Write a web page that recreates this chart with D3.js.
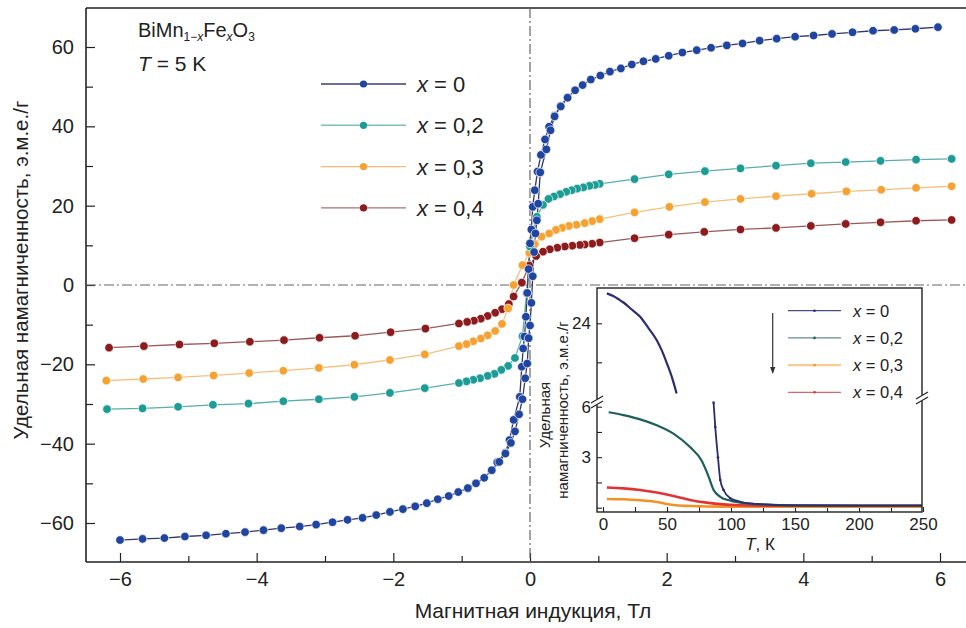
<!DOCTYPE html>
<html>
<head>
<meta charset="utf-8">
<script src="https://cdn.jsdelivr.net/npm/d3@7"></script>
<style>
body { margin: 0; background: #fff; }
svg { display: block; font-family: "Liberation Sans", Arial, sans-serif; }
</style>
</head>
<body>
<div id="svgWrapper"></div>
<script>
// main loop data, [field (T), magnetization (emu/g)]
var seriesKeys = ["x = 0", "x = 0,2", "x = 0,3", "x = 0,4"];

var blueDown = [[5.97,65.0],[5.64,64.6],[5.33,64.3],[5.02,64.1],[4.72,63.7],[4.42,63.3],[4.15,62.9],[3.88,62.6],[3.61,62.1],[3.36,61.6],[3.11,60.9],[2.88,60.4],[2.65,59.8],[2.44,59.2],[2.23,58.6],[2.03,57.8],[1.84,57.0],[1.66,56.4],[1.49,55.6],[1.33,54.6],[1.17,53.8],[1.03,52.8],[0.89,51.8],[0.77,50.4],[0.66,49.1],[0.55,47.3],[0.45,45.2],[0.36,42.7],[0.28,39.9],[0.22,36.7],[0.16,32.8],[0.11,28.6],[0.07,23.9],[0.04,19.7],[0.02,14.0],[0.0,10.5],[-0.02,4.0],[-0.04,-2.0],[-0.06,-8.0],[-0.08,-13.0],[-0.10,-16.0],[-0.12,-20.6],[-0.15,-28.2],[-0.24,-34.0],[-0.30,-39.1],[-0.36,-42.3],[-0.48,-44.7],[-0.56,-46.7],[-0.67,-48.6],[-0.79,-50.0],[-0.91,-51.2],[-1.05,-52.2],[-1.19,-53.2],[-1.35,-54.0],[-1.51,-55.0],[-1.68,-55.8],[-1.86,-56.5],[-2.05,-57.2],[-2.25,-58.0],[-2.45,-58.7],[-2.67,-59.2],[-2.89,-59.8],[-3.13,-60.4],[-3.37,-60.9],[-3.64,-61.3],[-3.90,-61.8],[-4.17,-62.3],[-4.45,-62.7],[-4.74,-63.1],[-5.05,-63.4],[-5.35,-63.8],[-5.67,-64.0],[-6.00,-64.3]];
var blueUp = [[-0.56,-46.7],[-0.45,-44.6],[-0.36,-42.5],[-0.28,-39.8],[-0.22,-36.9],[-0.16,-32.6],[-0.11,-28.8],[-0.07,-23.5],[-0.04,-19.8],[-0.02,-13.4],[0.0,-10.2],[0.02,-4.5],[0.04,2.2],[0.06,8.3],[0.08,13.0],[0.10,16.3],[0.12,20.5],[0.15,28.4],[0.24,34.2],[0.30,39.0],[0.36,42.5],[0.45,45.0],[0.55,47.2]];
var tealData = [[6.17,31.8],[5.65,31.6],[5.13,31.3],[4.62,31.0],[4.11,30.7],[3.60,30.1],[3.08,29.4],[2.56,28.7],[2.03,27.9],[1.53,26.7],[1.02,25.5],[0.95,25.2],[0.87,25.0],[0.78,24.6],[0.69,24.3],[0.61,23.9],[0.53,23.5],[0.44,22.9],[0.35,22.3],[0.27,21.7],[0.19,20.2],[0.10,17.2],[0.0,9.7],[-0.05,-2.0],[-0.11,-12.9],[-0.22,-18.4],[-0.32,-20.4],[-0.42,-21.4],[-0.52,-22.4],[-0.62,-22.9],[-0.73,-23.5],[-0.83,-23.9],[-0.93,-24.3],[-1.04,-24.7],[-1.54,-26.0],[-2.05,-27.2],[-2.57,-28.2],[-3.09,-28.8],[-3.61,-29.3],[-4.12,-29.9],[-4.64,-30.2],[-5.15,-30.7],[-5.67,-31.1],[-6.19,-31.3]];
var orangeData = [[6.17,24.9],[5.65,24.5],[5.14,24.0],[4.63,23.6],[4.12,23.0],[3.60,22.4],[3.08,21.7],[2.56,20.9],[2.04,19.7],[1.53,18.3],[1.02,16.6],[0.91,16.1],[0.80,15.6],[0.68,15.2],[0.57,14.9],[0.47,14.4],[0.38,13.9],[0.28,13.0],[0.17,12.2],[0.07,10.3],[-0.01,8.1],[-0.11,5.0],[-0.24,0.0],[-0.32,-5.9],[-0.41,-9.8],[-0.51,-11.6],[-0.62,-12.7],[-0.72,-13.5],[-0.83,-14.2],[-0.93,-14.9],[-1.04,-15.4],[-1.54,-17.5],[-2.05,-18.9],[-2.57,-20.1],[-3.09,-20.9],[-3.61,-21.6],[-4.11,-22.2],[-4.63,-22.8],[-5.15,-23.3],[-5.66,-23.7],[-6.20,-24.1]];
var redData = [[6.17,16.4],[5.65,16.2],[5.13,15.8],[4.62,15.4],[4.11,14.9],[3.60,14.4],[3.08,14.0],[2.55,13.4],[2.03,12.7],[1.53,11.8],[1.02,10.7],[0.91,10.4],[0.80,10.2],[0.73,10.1],[0.62,9.9],[0.51,9.7],[0.40,9.4],[0.29,9.0],[0.19,8.4],[0.09,7.3],[-0.01,4.9],[-0.12,0.6],[-0.24,-2.9],[-0.31,-4.8],[-0.41,-6.1],[-0.51,-7.0],[-0.62,-7.8],[-0.72,-8.5],[-0.82,-9.0],[-0.92,-9.3],[-1.04,-9.7],[-1.53,-11.0],[-2.04,-11.9],[-2.56,-12.8],[-3.08,-13.3],[-3.60,-13.9],[-4.10,-14.3],[-4.62,-14.7],[-5.13,-15.0],[-5.65,-15.4],[-6.16,-15.8]];

var xTicks = [-6, -4, -2, 0, 2, 4, 6];
var xMinor = [-5, -3, -1, 1, 3, 5];
var yTicks = [-60, -40, -20, 0, 20, 40, 60];
var yMinor = [-50, -30, -10, 10, 30, 50];

// inset data, [T (K), magnetization]
var insetKeys = ["x = 0", "x = 0,2", "x = 0,3", "x = 0,4"];
var inset0High = [[3,25.15],[8,25.05],[13,24.9],[16,24.8],[22,24.55],[29,24.25],[35,23.85],[42,23.35],[46,22.95],[50,22.45],[54,21.9],[57.5,21.3]];
var inset0Low = [[86.4,6.24],[87.7,4.8],[89.8,3.0],[91.6,1.65],[94.2,1.05],[99.5,0.56],[105,0.4],[110,0.3],[125,0.2],[150,0.14],[200,0.12],[250,0.12]];
var inset2 = [[4.4,5.67],[16,5.5],[29,5.25],[42,4.9],[55,4.4],[68,3.6],[77,2.8],[82.5,1.85],[86.4,1.05],[91.6,0.65],[99.5,0.42],[112.5,0.26],[125,0.2],[150,0.14],[200,0.12],[250,0.12]];
var inset3 = [[3,0.52],[16,0.5],[29,0.44],[42,0.34],[55,0.16],[68,0.1],[81,0.07],[100,0.06],[150,0.06],[200,0.06],[250,0.06]];
var inset4 = [[3,1.2],[16,1.15],[29,1.05],[42,0.9],[55,0.7],[68,0.46],[81,0.3],[94,0.2],[107,0.15],[130,0.12],[200,0.12],[250,0.12]];
var insetXTicks = [0, 50, 100, 150, 200, 250];
var insetXMinor = [25, 75, 125, 175, 225];
var insetLowTicks = [0, 1.5, 3, 4.5, 6];
var insetLowLabels = [3, 6];
var insetHighTicks = [22.5, 24];
var insetHighLabels = [24];

var fullWidth = 966, fullHeight = 628;
var frameLeft = 86, frameTop = 8, frameBottom = 562;

var dotColor = ["#1f45a0", "#1d9c96", "#f6a232", "#8c1b1d"];
var lineColor = ["#30356f", "#5aaeab", "#f5c07e", "#9a5a5a"];
var legendLine = ["#3a3f78", "#80bebc", "#f7b878", "#a87272"];
var insetColor = ["#2b2d72", "#1e5f5d", "#f39224", "#e03434"];

var svg = d3.select("#svgWrapper").append("svg")
  .attr("width", fullWidth).attr("height", fullHeight);

var xScale = d3.scaleLinear().domain([-6, 6]).range([120, 940]);
var yScale = d3.scaleLinear().domain([-60, 60]).range([523, 47]);

// axes
svg.append("g").attr("transform", "translate(" + frameLeft + ",0)")
  .call(d3.axisLeft(yScale).tickValues(yTicks).tickSize(-9).tickPadding(12).tickFormat(d3.format("d")));
svg.append("g").attr("transform", "translate(" + frameLeft + ",0)")
  .call(d3.axisLeft(yScale).tickValues(yMinor).tickSize(-7).tickFormat(""));
svg.append("g").attr("transform", "translate(0," + frameBottom + ")")
  .call(d3.axisBottom(xScale).tickValues(xTicks).tickSize(-9).tickPadding(10).tickFormat(d3.format("d")));
svg.append("g").attr("transform", "translate(0," + frameBottom + ")")
  .call(d3.axisBottom(xScale).tickValues(xMinor).tickSize(-6).tickFormat(""));
svg.selectAll(".domain").remove();
svg.selectAll(".tick line").attr("stroke", "#222").attr("stroke-width", 1.2);
svg.selectAll(".tick text").style("font-size", "20px").attr("fill", "#222");

// frame
var frame = svg.append("g").attr("stroke", "#222").attr("stroke-width", 1.6).attr("fill", "none");
frame.append("line").attr("x1", frameLeft).attr("x2", frameLeft).attr("y1", frameTop).attr("y2", frameBottom);
frame.append("line").attr("x1", frameLeft).attr("x2", fullWidth).attr("y1", frameBottom).attr("y2", frameBottom);
frame.append("line").attr("x1", frameLeft).attr("x2", fullWidth).attr("y1", frameTop).attr("y2", frameTop);

// dash-dot zero lines
svg.append("line").attr("x1", frameLeft).attr("x2", fullWidth).attr("y1", yScale(0)).attr("y2", yScale(0))
  .attr("stroke", "#666").attr("stroke-width", 1.2).attr("stroke-dasharray", "10,3,2,3");
svg.append("line").attr("x1", xScale(0)).attr("x2", xScale(0)).attr("y1", frameTop).attr("y2", frameBottom)
  .attr("stroke", "#666").attr("stroke-width", 1.2).attr("stroke-dasharray", "10,3,2,3");

// series
var line = d3.line().x(function(d) { return xScale(d[0]); }).y(function(d) { return yScale(d[1]); });
var plotOrder = [[redData, 3], [orangeData, 2], [tealData, 1], [blueDown, 0], [blueUp, 0]];
for (var p = 0; p < plotOrder.length; p++) {
  var data = plotOrder[p][0], ci = plotOrder[p][1];
  svg.append("path").datum(data).attr("d", line)
    .attr("fill", "none").attr("stroke", lineColor[ci]).attr("stroke-width", 1.3);
}
for (var p = 0; p < plotOrder.length; p++) {
  var data = plotOrder[p][0], ci = plotOrder[p][1];
  svg.append("g").selectAll("circle").data(data).enter().append("circle")
    .attr("cx", function(d) { return xScale(d[0]); })
    .attr("cy", function(d) { return yScale(d[1]); })
    .attr("r", 4.3)
    .attr("fill", dotColor[ci])
    .attr("stroke", "#fff").attr("stroke-width", 0.7);
}

// axis labels
svg.append("text")
  .style("text-anchor", "middle").style("font-size", "21px").attr("fill", "#222")
  .attr("x", 533).attr("y", 618)
  .text("Магнитная индукция, Тл");
svg.append("text")
  .style("text-anchor", "middle").style("font-size", "20.5px").attr("fill", "#222")
  .attr("transform", "translate(28, 270) rotate(-90)")
  .text("Удельная намагниченность, э.м.е./г");

// compound label
var title = svg.append("text").attr("x", 138).attr("y", 37).style("font-size", "20px").attr("fill", "#222");
title.append("tspan").text("BiMn");
title.append("tspan").attr("dy", 4).style("font-size", "12px").text("1−");
title.append("tspan").style("font-size", "12px").style("font-style", "italic").text("x");
title.append("tspan").attr("dy", -4).text("Fe");
title.append("tspan").attr("dy", 4).style("font-size", "12px").style("font-style", "italic").text("x");
title.append("tspan").attr("dy", -4).text("O");
title.append("tspan").attr("dy", 4).style("font-size", "12px").text("3");
var tLabel = svg.append("text").attr("x", 138).attr("y", 71).style("font-size", "21px").attr("fill", "#222");
tLabel.append("tspan").style("font-style", "italic").text("T");
tLabel.append("tspan").text(" = 5 K");

// legend
for (var p = 0; p < seriesKeys.length; p++) {
  var ly = 84 + 41.3 * p;
  svg.append("line").attr("x1", 321).attr("x2", 406).attr("y1", ly).attr("y2", ly)
    .attr("stroke", legendLine[p]).attr("stroke-width", 1.4);
  svg.append("circle").attr("cx", 363.5).attr("cy", ly).attr("r", 3.6).attr("fill", dotColor[p]);
  var lt = svg.append("text").attr("x", 417).attr("y", ly + 8).style("font-size", "22px").attr("fill", "#222");
  lt.append("tspan").style("font-style", "italic").text("x");
  lt.append("tspan").text(seriesKeys[p].slice(1));
}

// ---------- inset ----------
var insetW = 325, insetH = 224;
var inset = svg.append("g").attr("transform", "translate(597,288)");
inset.append("rect").attr("width", insetW).attr("height", insetH).attr("fill", "#fff");

var xI = d3.scaleLinear().domain([0, 250]).range([6, 326]);
var yLow = d3.scaleLinear().domain([0, 6]).range([219.7, 118.7]);
var yHigh = d3.scaleLinear().domain([22.5, 24]).range([74.3, 35.3]);
var breakY = 113;

var defs = svg.append("defs");
defs.append("clipPath").attr("id", "clipLow").append("rect").attr("x", 0).attr("y", breakY).attr("width", insetW).attr("height", insetH - breakY);
defs.append("clipPath").attr("id", "clipHigh").append("rect").attr("x", 0).attr("y", 0).attr("width", insetW).attr("height", breakY);

inset.append("g").attr("transform", "translate(0," + insetH + ")")
  .call(d3.axisBottom(xI).tickValues(insetXTicks).tickSize(-5).tickPadding(6).tickFormat(d3.format("d")));
inset.append("g").attr("transform", "translate(0," + insetH + ")")
  .call(d3.axisBottom(xI).tickValues(insetXMinor).tickSize(-5).tickFormat(""));
inset.append("g")
  .call(d3.axisLeft(yLow).tickValues(insetLowTicks).tickSize(-5).tickPadding(6)
    .tickFormat(function(d) { return insetLowLabels.indexOf(d) >= 0 ? d : ""; }));
inset.append("g")
  .call(d3.axisLeft(yHigh).tickValues(insetHighTicks).tickSize(-5).tickPadding(6)
    .tickFormat(function(d) { return insetHighLabels.indexOf(d) >= 0 ? d : ""; }));
inset.selectAll(".domain").remove();
inset.selectAll(".tick line").attr("stroke", "#222").attr("stroke-width", 1.1);
inset.selectAll(".tick text").style("font-size", "17px").attr("fill", "#222");

var lineLow = d3.line().curve(d3.curveMonotoneX).x(function(d) { return xI(d[0]); }).y(function(d) { return yLow(d[1]); });
var lineHigh = d3.line().curve(d3.curveMonotoneX).x(function(d) { return xI(d[0]); }).y(function(d) { return yHigh(d[1]); });

var lowSets = [[inset3, 2, 2.6], [inset4, 3, 2.6], [inset2, 1, 2.2], [inset0Low, 0, 1.8]];
for (var p = 0; p < lowSets.length; p++) {
  inset.append("path").datum(lowSets[p][0]).attr("d", lineLow).attr("clip-path", "url(#clipLow)")
    .attr("fill", "none").attr("stroke", insetColor[lowSets[p][1]]).attr("stroke-width", lowSets[p][2]);
}
inset.append("path").datum(inset0High).attr("d", lineHigh).attr("clip-path", "url(#clipHigh)")
  .attr("fill", "none").attr("stroke", insetColor[0]).attr("stroke-width", 2.2);
// dotted texture of the steep x = 0 branch
inset.append("g").selectAll("circle").data(inset0Low.slice(0, 6)).enter().append("circle")
  .attr("cx", function(d) { return xI(d[0]); }).attr("cy", function(d) { return yLow(d[1]); })
  .attr("r", 1.3).attr("fill", insetColor[0]);

// inset frame
inset.append("rect").attr("width", insetW).attr("height", insetH)
  .attr("fill", "none").attr("stroke", "#222").attr("stroke-width", 1.4);

// axis break marks
function breakMark(bx, by) {
  inset.append("rect").attr("x", bx - 3).attr("y", by - 3).attr("width", 6).attr("height", 6).attr("fill", "#fff");
  inset.append("line").attr("x1", bx - 6).attr("y1", by + 1).attr("x2", bx + 6).attr("y2", by - 6)
    .attr("stroke", "#222").attr("stroke-width", 1.2);
  inset.append("line").attr("x1", bx - 6).attr("y1", by + 6).attr("x2", bx + 6).attr("y2", by - 1)
    .attr("stroke", "#222").attr("stroke-width", 1.2);
}
breakMark(0, breakY + 1);
breakMark(insetW, breakY - 3);

// inset labels
var ixl = inset.append("text").style("text-anchor", "middle").style("font-size", "17px").attr("fill", "#222")
  .attr("x", 163).attr("y", 262);
ixl.append("tspan").style("font-style", "italic").text("T");
ixl.append("tspan").text(", К");
inset.append("text").style("text-anchor", "middle").style("font-size", "15px").attr("fill", "#222")
  .attr("transform", "translate(-47, 127) rotate(-90)").text("Удельная");
inset.append("text").style("text-anchor", "middle").style("font-size", "15px").attr("fill", "#222")
  .attr("transform", "translate(-29, 122) rotate(-90)").text("намагниченность, э.м.е./г");

// inset legend
var insetLegendColor = ["#4a4f80", "#6a8a8a", "#f5cc94", "#d66a6a"];
for (var p = 0; p < insetKeys.length; p++) {
  var iy = 22.7 + 27.2 * p;
  inset.append("line").attr("x1", 191).attr("x2", 244).attr("y1", iy).attr("y2", iy)
    .attr("stroke", insetLegendColor[p]).attr("stroke-width", p == 2 ? 2.4 : 1.2);
  inset.append("circle").attr("cx", 217.5).attr("cy", iy).attr("r", 1.3).attr("fill", insetColor[p]);
  var it = inset.append("text").attr("x", 256).attr("y", iy + 6).style("font-size", "16.5px").attr("fill", "#222");
  it.append("tspan").style("font-style", "italic").text("x");
  it.append("tspan").text(insetKeys[p].slice(1));
}

// arrow
defs.append("marker").attr("id", "arrowHead").attr("viewBox", "0 0 10 10").attr("refX", 9).attr("refY", 5)
  .attr("markerWidth", 6).attr("markerHeight", 8).attr("orient", "auto")
  .append("path").attr("d", "M0,1 L10,5 L0,9 Z").attr("fill", "#333");
inset.append("line").attr("x1", 175.7).attr("x2", 175.7).attr("y1", 25).attr("y2", 85)
  .attr("stroke", "#333").attr("stroke-width", 1.2).attr("marker-end", "url(#arrowHead)");
</script>
</body>
</html>
